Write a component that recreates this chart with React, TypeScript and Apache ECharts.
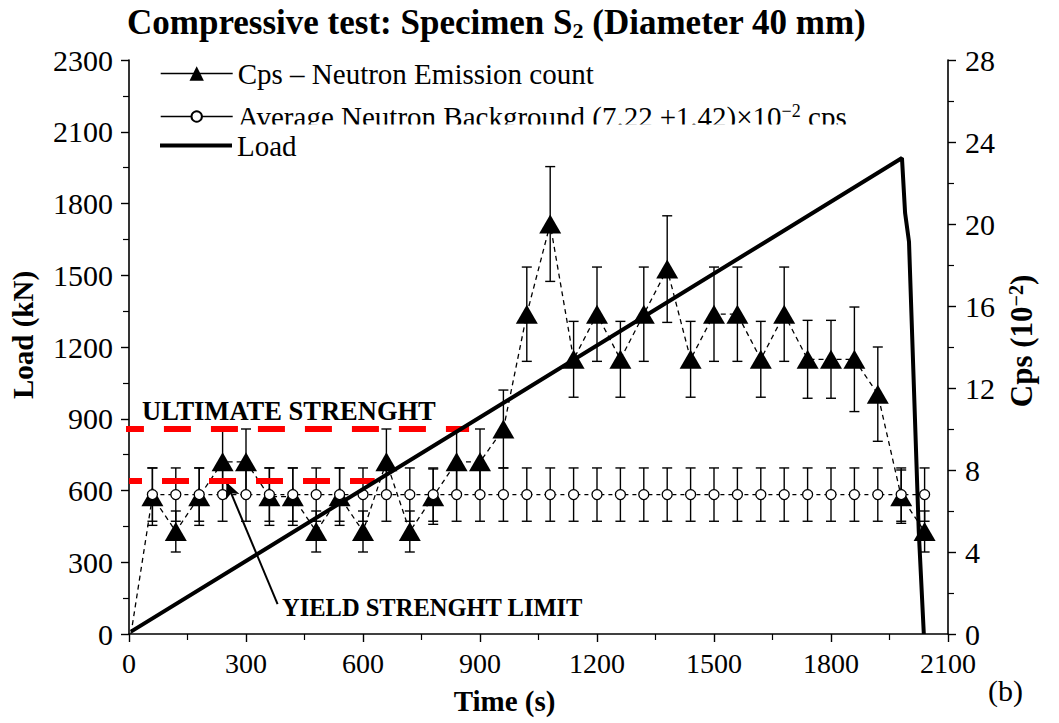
import React, { useEffect, useRef } from 'react';
import * as echarts from 'echarts';

// ---- data ----
const cpsTimes = [60, 120, 180, 240, 300, 360, 420, 480, 540, 600, 660, 720, 780, 840, 900, 960, 1020, 1080, 1140, 1200, 1260, 1320, 1380, 1440, 1500, 1560, 1620, 1680, 1740, 1800, 1860, 1920, 1980, 2040];
const cpsValues = [6.7, 5.0, 6.7, 8.4, 8.4, 6.7, 6.7, 5.0, 6.7, 5.0, 8.4, 5.0, 6.7, 8.4, 8.4, 10.0, 15.6, 20.0, 13.4, 15.6, 13.4, 15.6, 17.8, 13.4, 15.6, 15.6, 13.4, 15.6, 13.4, 13.4, 13.4, 11.7, 6.7, 5.0];
const cpsErrors = [1.4, 1.0, 1.4, 1.5, 1.6, 1.4, 1.4, 1.0, 1.4, 1.0, 1.6, 1.0, 1.35, 1.6, 1.6, 1.9, 2.3, 2.8, 1.85, 2.3, 1.85, 2.3, 2.6, 1.85, 2.3, 2.3, 1.85, 2.3, 1.9, 1.9, 2.55, 2.3, 1.3, 1.0];
const cpsStart = [5, 0];

const bgTimes = [60, 120, 180, 240, 300, 360, 420, 480, 540, 600, 660, 720, 780, 840, 900, 960, 1020, 1080, 1140, 1200, 1260, 1320, 1380, 1440, 1500, 1560, 1620, 1680, 1740, 1800, 1860, 1920, 1980, 2040];
const bgValues = [6.8, 6.8, 6.8, 6.8, 6.8, 6.8, 6.8, 6.8, 6.8, 6.8, 6.8, 6.8, 6.8, 6.8, 6.8, 6.8, 6.8, 6.8, 6.8, 6.8, 6.8, 6.8, 6.8, 6.8, 6.8, 6.8, 6.8, 6.8, 6.8, 6.8, 6.8, 6.8, 6.8, 6.8];
const bgErrors = [1.3, 1.3, 1.3, 1.3, 1.3, 1.3, 1.3, 1.3, 1.3, 1.3, 1.3, 1.3, 1.3, 1.3, 1.3, 1.3, 1.3, 1.3, 1.3, 1.3, 1.3, 1.3, 1.3, 1.3, 1.3, 1.3, 1.3, 1.3, 1.3, 1.3, 1.3, 1.3, 1.3, 1.3];

const loadTimes = [5, 1982, 1990, 2000, 2025, 2038];
const loadValues = [10, 1990, 1760, 1640, 430, 0];

const ultimateTimes = [-13, 872];
const ultimateLoad = 857;
const yieldTimes = [0, 630];
const yieldLoad = 640;
const arrowTail = [381, 125];
const arrowTip = [250, 635];

const xTicks = { min: 0, max: 2100, interval: 300 };
const yLoadTicks = { min: 0, max: 2400, interval: 300 };
const yCpsTicks = { min: 0, max: 28, interval: 4 };

const FONT = "'Liberation Serif', 'Times New Roman', serif";

const CPS_NAME = 'Cps – Neutron Emission count';
const BG_NAME = 'Average Neutron Background';
const LOAD_NAME = 'Load';

function errRender(params: any, api: any) {
  const x = api.value(0);
  const y = api.value(1);
  const e = api.value(2);
  const top = api.coord([x, y + e]);
  const bot = api.coord([x, y - e]);
  const hw = 5;
  const style = { stroke: '#000', lineWidth: 1.4 };
  return {
    type: 'group',
    children: [
      { type: 'line', shape: { x1: top[0], y1: top[1], x2: bot[0], y2: bot[1] }, style },
      { type: 'line', shape: { x1: top[0] - hw, y1: top[1], x2: top[0] + hw, y2: top[1] }, style },
      { type: 'line', shape: { x1: bot[0] - hw, y1: bot[1], x2: bot[0] + hw, y2: bot[1] }, style },
    ],
  };
}

export default function App() {
  const ref = useRef<HTMLDivElement>(null);
  useEffect(() => {
    if (!ref.current) return;
    const chart = echarts.init(ref.current, undefined, { renderer: 'svg' });
    const axisLine = { show: true, lineStyle: { color: '#000', width: 1.6 } };
    const axisTick = { show: true, inside: false, length: 8, lineStyle: { color: '#000', width: 1.4 } };
    const minorTick = { show: true, splitNumber: 2, length: 6, lineStyle: { color: '#000', width: 1.2 } };

    chart.setOption({
      animation: false,
      backgroundColor: '#fff',
      textStyle: { fontFamily: FONT, color: '#000' },
      title: {
        text: 'Compressive test: Specimen S{s|2} (Diameter 40 mm)',
        left: 122,
        top: -2,
        textStyle: {
          fontFamily: FONT, fontSize: 35, fontWeight: 'bold', color: '#000', lineHeight: 38,
          rich: {
            s: { fontFamily: FONT, fontSize: 22, fontWeight: 'bold', color: '#000', verticalAlign: 'bottom', lineHeight: 36 },
          },
        },
      },
      grid: { left: 127, right: 111, top: 60, bottom: 89, containLabel: false },
      legend: [
        {
          data: [{ name: CPS_NAME, lineStyle: { type: 'solid', color: '#000', width: 1.4 } }],
          left: 155, top: 54, itemWidth: 72, itemHeight: 18, selectedMode: false,
          textStyle: { fontFamily: FONT, fontSize: 29, color: '#000' },
        },
        {
          data: [{ name: BG_NAME, lineStyle: { type: 'solid', color: '#000', width: 1.4 } }],
          left: 155, top: 97, itemWidth: 72, itemHeight: 13, selectedMode: false,
          formatter: () => 'Average Neutron Background (7.22 ±1.42)×10{s|−2} cps',
          textStyle: {
            fontFamily: FONT, fontSize: 29, color: '#000',
            rich: {
              s: { fontFamily: FONT, fontSize: 18, color: '#000', verticalAlign: 'top' },
            },
          },
        },
        {
          data: [{ name: LOAD_NAME, icon: 'rect', itemStyle: { color: '#000' } }],
          left: 155, top: 126, itemWidth: 72, itemHeight: 4, selectedMode: false,
          textStyle: { fontFamily: FONT, fontSize: 29, color: '#000' },
        },
      ],
      xAxis: {
        type: 'value',
        ...xTicks,
        name: 'Time (s)',
        nameLocation: 'middle',
        nameGap: 52,
        nameTextStyle: { fontFamily: FONT, fontSize: 29, fontWeight: 'bold', color: '#000', padding: [0, 68, 0, 0] },
        axisLine, axisTick, minorTick,
        splitLine: { show: false },
        axisLabel: { fontFamily: FONT, fontSize: 28, color: '#000', margin: 15, formatter: (v: number) => String(v) },
      },
      yAxis: [
        {
          type: 'value',
          ...yLoadTicks,
          position: 'left',
          name: 'Load (kN)',
          nameLocation: 'middle',
          nameGap: 92,
          nameTextStyle: { fontFamily: FONT, fontSize: 29, fontWeight: 'bold', color: '#000', padding: [0, 0, 0, 24] },
          axisLine, axisTick, minorTick,
          splitLine: { show: false },
          axisLabel: {
            fontFamily: FONT, fontSize: 30, color: '#000', margin: 16,
            formatter: (v: number) => (v === 2400 ? '2300' : String(v)),
          },
        },
        {
          type: 'value',
          ...yCpsTicks,
          position: 'right',
          name: 'Cps (10{s|−2})',
          nameLocation: 'middle',
          nameGap: 52,
          nameTextStyle: {
            fontFamily: FONT, fontSize: 31, fontWeight: 'bold', color: '#000', padding: [0, 0, 0, 12],
            rich: {
              s: { fontFamily: FONT, fontSize: 20, fontWeight: 'bold', color: '#000', verticalAlign: 'top' },
            },
          },
          axisLine, axisTick, minorTick,
          splitLine: { show: false },
          axisLabel: { fontFamily: FONT, fontSize: 30, color: '#000', margin: 17 },
        },
      ],
      series: [
        {
          name: 'cpsErr', type: 'custom', yAxisIndex: 1, z: 2, silent: true,
          renderItem: errRender,
          encode: { x: 0, y: 1 },
          data: cpsTimes.map((t, i) => [t, cpsValues[i], cpsErrors[i]]),
        },
        {
          name: 'bgErr', type: 'custom', yAxisIndex: 1, z: 2, silent: true,
          renderItem: errRender,
          encode: { x: 0, y: 1 },
          data: bgTimes.map((t, i) => [t, bgValues[i], bgErrors[i]]),
        },
        {
          name: CPS_NAME, type: 'line', yAxisIndex: 1, z: 3,
          symbol: 'triangle', symbolSize: [22, 19],
          itemStyle: { color: '#000' },
          lineStyle: { color: '#000', width: 1.3, type: [5, 4] },
          data: [{ value: cpsStart, symbol: 'none' }, ...cpsTimes.map((t, i) => [t, cpsValues[i]])],
        },
        {
          name: BG_NAME, type: 'line', yAxisIndex: 1, z: 4,
          symbol: 'circle', symbolSize: 10,
          itemStyle: { color: '#fff', borderColor: '#000', borderWidth: 1.3 },
          lineStyle: { color: '#000', width: 1.2, type: [4, 4] },
          data: bgTimes.map((t, i) => [t, bgValues[i]]),
        },
        {
          name: 'ultimate', type: 'line', yAxisIndex: 0, z: 5, clip: false,
          symbol: 'none', silent: true,
          lineStyle: { color: '#ff0000', width: 6, type: [27, 20], dashOffset: 7 },
          data: ultimateTimes.map((t) => [t, ultimateLoad]),
        },
        {
          name: 'yield', type: 'line', yAxisIndex: 0, z: 5, clip: false,
          symbol: 'none', silent: true,
          lineStyle: { color: '#ff0000', width: 6, type: [27, 20], dashOffset: 14 },
          data: yieldTimes.map((t) => [t, yieldLoad]),
          markLine: {
            silent: true,
            symbol: ['none', 'arrow'],
            symbolSize: [11, 16],
            label: { show: false },
            lineStyle: { color: '#000', width: 2, type: 'solid' },
            data: [[{ coord: arrowTail }, { coord: arrowTip }]],
          },
        },
        {
          name: LOAD_NAME, type: 'line', yAxisIndex: 0, z: 6,
          symbol: 'none',
          lineStyle: { color: '#000', width: 4 },
          itemStyle: { color: '#000' },
          data: loadTimes.map((t, i) => [t, loadValues[i]]),
        },
      ],
      graphic: [
        {
          type: 'rect', z: 100, silent: true,
          shape: { x: 232, y: 124.5, width: 640, height: 11.5 },
          style: { fill: '#fff' },
        },
        {
          type: 'text', z: 100, x: 142, y: 411,
          style: { text: 'ULTIMATE STRENGHT', font: `bold 26.5px ${FONT}`, fill: '#000', verticalAlign: 'middle' },
        },
        {
          type: 'text', z: 100, x: 282, y: 607,
          style: { text: 'YIELD STRENGHT LIMIT', font: `bold 24.5px ${FONT}`, fill: '#000', verticalAlign: 'middle' },
        },
        {
          type: 'text', z: 100, x: 988, y: 690,
          style: { text: '(b)', font: `30px ${FONT}`, fill: '#000', verticalAlign: 'middle' },
        },
      ],
    });
    return () => chart.dispose();
  }, []);
  return <div ref={ref} style={{ position: 'fixed', left: 0, top: 0, width: 1059, height: 723, background: '#fff' }} />;
}
